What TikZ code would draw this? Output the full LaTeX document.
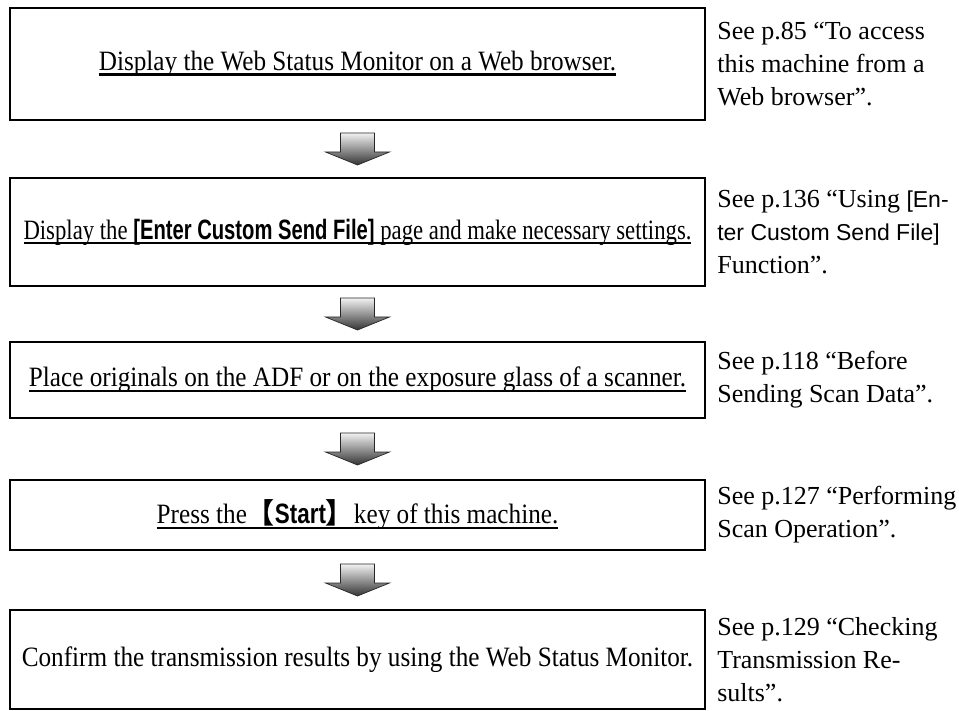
\documentclass[tikz,border=0pt]{standalone}
\usepackage{graphicx}
\usepackage{fontspec}
\setmainfont{Liberation Serif}
\setsansfont{Liberation Sans}
\newfontfamily\condfont[FakeStretch=0.9]{Liberation Serif}
\newfontfamily\keyfont[FakeStretch=0.8]{Liberation Sans}
\newfontfamily\cjkfont{Noto Sans CJK SC}
\usetikzlibrary{calc,positioning}
\newsavebox\ulbox
\newcommand{\ulstep}[1]{\sbox\ulbox{#1}\rlap{\rule[-5pt]{\wd\ulbox}{2.2pt}}\usebox\ulbox}

\begin{document}
\begin{tikzpicture}[x=1pt,y=-1pt]
  \tikzset{flowbox/.style={draw=black,line width=2.2pt,minimum width=695pt,inner sep=0pt,font=\condfont\fontsize{28}{33}\selectfont}}
  \tikzset{flowarrow/.pic={\draw[draw=black!85,line width=0.7pt,top color=black!5,bottom color=black!80] (-17,-16) -- (17,-16) -- (17,3) -- (32,3) -- (0,16) -- (-32,3) -- (-17,3) -- cycle;}}
  \tikzset{reftext/.style={anchor=west,align=left,inner sep=0pt,font=\fontsize{26}{33}\selectfont}}
  \tikzset{refsans/.style={font=\sffamily\fontsize{23}{33}\selectfont}}
  \useasboundingbox (0,0) rectangle (959,711);
  \node[flowbox,minimum height=112pt] (box1) at (357.5,64) {\ulstep{Display the Web Status Monitor on a Web browser.}};
  \node[flowbox,minimum height=108pt] (box2) at (357.5,232) {\resizebox{668pt}{\height}{\ulstep{Display the {\keyfont\bfseries [Enter Custom Send File]} page and make necessary settings.}}};
  \node[flowbox,minimum height=76pt] (box3) at (357.5,380) {\ulstep{Place originals on the ADF or on the exposure glass of a scanner.}};
  \node[flowbox,minimum height=70pt] (box4) at (357.5,515) {\ulstep{Press the{\cjkfont\bfseries 【}{\keyfont\bfseries Start}{\cjkfont\bfseries 】}key of this machine.}};
  \node[flowbox,minimum height=99pt] (box5) at (357.5,659.5) {Confirm the transmission results by using the Web Status Monitor.};
  \node[reftext,right=11pt of box1] (ref1) {See p.85 “To access\\this machine from a\\Web browser”.};
  \node[reftext,right=11pt of box2] (ref2) {See p.136 “Using {\sffamily\fontsize{23}{33}\selectfont [En-}\\{\sffamily\fontsize{23}{33}\selectfont ter Custom Send File]}\\Function”.};
  \node[reftext,right=11pt of box3] (ref3) {See p.118 “Before\\Sending Scan Data”.};
  \node[reftext,right=11pt of box4] (ref4) {See p.127 “Performing\\Scan Operation”.};
  \node[reftext,right=11pt of box5] (ref5) {See p.129 “Checking\\Transmission Re-\\sults”.};
  \pic (arr1) at ($(box1.south)!0.5!(box2.north)$) {flowarrow};
  \pic (arr2) at ($(box2.south)!0.5!(box3.north)$) {flowarrow};
  \pic (arr3) at ($(box3.south)!0.5!(box4.north)$) {flowarrow};
  \pic (arr4) at ($(box4.south)!0.5!(box5.north)$) {flowarrow};
\end{tikzpicture}
\end{document}
